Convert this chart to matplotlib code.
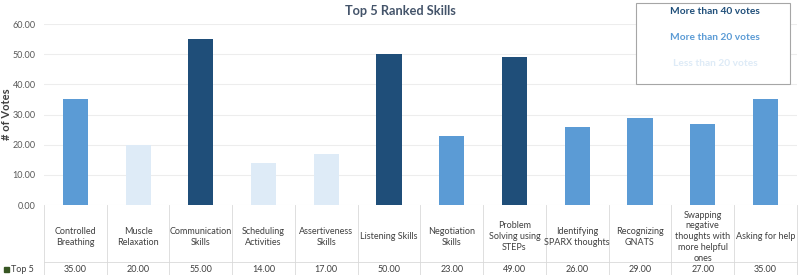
import matplotlib
matplotlib.use('Agg')
import matplotlib.pyplot as plt
import matplotlib.transforms as mtransforms
from matplotlib.patches import Rectangle

# Datos del gráfico
habilidades = [
    'Controlled\nBreathing', 'Muscle\nRelaxation', 'Communication\nSkills',
    'Scheduling\nActivities', 'Assertiveness\nSkills', 'Listening Skills',
    'Negotiation\nSkills', 'Problem\nSolving using\nSTEPs', 'Identifying\nSPARX thoughts',
    'Recognizing\nGNATS', 'Swapping\nnegative\nthoughts with\nmore helpful\nones', 'Asking for help',
]
votos = [35, 20, 55, 14, 17, 50, 23, 49, 26, 29, 27, 35]
yticks = [0, 10, 20, 30, 40, 50, 60]

OSCURO = '#1F4E79'
MEDIO = '#5B9BD5'
CLARO = '#DEEBF7'
GRIS_TEXTO = '#44546A'
GRIS_LINEA = '#D9D9D9'

plt.rcParams['font.family'] = ['Lato', 'DejaVu Sans']

def color_barra(v):
    if v > 40:
        return OSCURO
    if v > 20:
        return MEDIO
    return CLARO

fig = plt.figure(figsize=(8, 2.75), dpi=100)
ax = fig.add_axes([0.055, 0.2545, 0.941, 0.658])

x = list(range(len(habilidades)))
ax.bar(x, votos, width=0.4, color=[color_barra(v) for v in votos], zorder=3)

ax.set_xlim(-0.5, len(habilidades) - 0.5)
ax.set_ylim(0, 60)
ax.set_yticks(yticks)
ax.set_yticklabels([f'{t:.2f}' for t in yticks], fontsize=6.5, color='#595959')
ax.set_xticks([])
ax.grid(axis='y', color='#EDEDED', linewidth=0.8, zorder=0)
for s in ax.spines.values():
    s.set_visible(False)
ax.tick_params(axis='y', length=0, pad=6)
ax.set_ylabel('# of Votes', fontsize=8, fontweight='bold', color='#404040')
ax.yaxis.set_label_coords(-0.043, 0.5)

# Título centrado en la figura
fig.text(0.5, 1 - 11 / 275, 'Top 5 Ranked Skills', fontsize=9.2, fontweight='bold',
         color=GRIS_TEXTO, ha='center', va='center')

# Tabla de datos debajo del eje
trans = mtransforms.blended_transform_factory(ax.transData, ax.transAxes)
for i in range(len(habilidades) + 1):
    ax.plot([i - 0.5, i - 0.5], [0, -0.39], transform=trans, color=GRIS_LINEA,
            linewidth=0.6, clip_on=False)
ax.plot([-0.5, len(habilidades) - 0.5], [-0.315, -0.315], transform=trans,
        color=GRIS_LINEA, linewidth=0.6, clip_on=False)
for i, (h, v) in enumerate(zip(habilidades, votos)):
    ax.text(i, -0.175, h, transform=trans, ha='center', va='center',
            fontsize=6.5, color='#404040', linespacing=1.25)
    ax.text(i, -0.355, f'{v:.2f}', transform=trans, ha='center', va='center',
            fontsize=6.5, color='#404040')

fig.patches.append(Rectangle((4 / 800, 1 - 272 / 275), 5 / 800, 5 / 275,
                             transform=fig.transFigure, color='#375623'))
fig.text(11 / 800, 1 - 269 / 275, 'Top 5', fontsize=6.5, color='#404040',
         ha='left', va='center')

# Caja de leyenda
fig.patches.append(Rectangle((636 / 800, 1 - 84 / 275), 154 / 800, 81 / 275,
                             transform=fig.transFigure, facecolor='white',
                             edgecolor='#A6A6A6', linewidth=0.8))
for texto, col, yy in [('More than 40 votes', OSCURO, 11),
                       ('More than 20 votes', MEDIO, 37),
                       ('Less than 20 votes', CLARO, 63)]:
    fig.text(715 / 800, 1 - yy / 275, texto, fontsize=7.3, fontweight='bold',
             color=col, ha='center', va='center')

fig.savefig('out.png', dpi=100)
